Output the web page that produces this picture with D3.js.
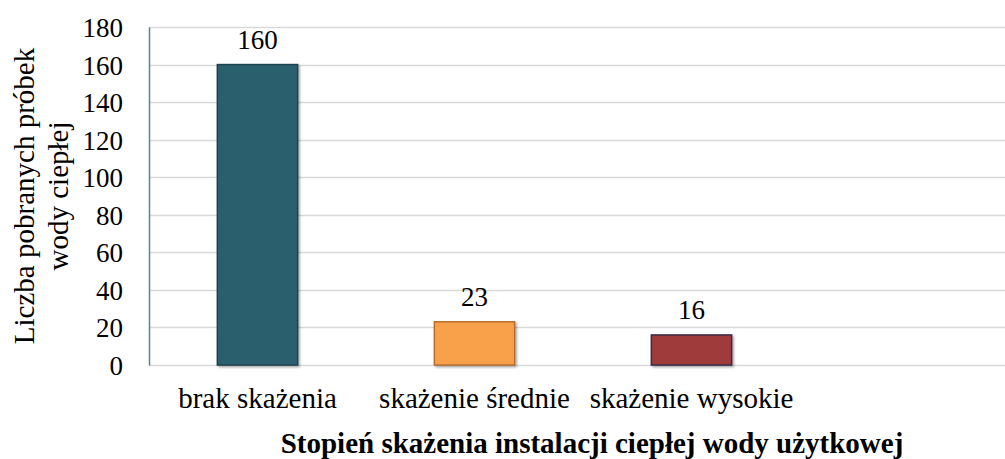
<!DOCTYPE html>
<html>
<head>
<meta charset="utf-8">
<script src="https://cdn.jsdelivr.net/npm/d3@7"></script>
<style>
  body { margin: 0; background: #fff; }
  svg, svg text { font-family: "Liberation Serif", "Times New Roman", Times, "DejaVu Serif", serif !important; }
</style>
</head>
<body>
<div id="chart"></div>
<script>
// categories (the last one is empty, as in the source sheet)
var categories = ["brak skażenia", "skażenie średnie", "skażenie wysokie", ""];
var values = [160, 23, 16, null];
var barColors = ["#2b5f6d", "#f9a04b", "#a03b3b", "#fff"];
var barStrokes = ["#1d424d", "#b86e2a", "#3a2a48", "#fff"];
var yTicks = [0, 20, 40, 60, 80, 100, 120, 140, 160, 180];
var yTitle = ["Liczba pobranych próbek", "wody ciepłej"];
var xTitle = "Stopień skażenia instalacji ciepłej wody użytkowej";

var width = 1005, height = 459;
var svg = d3.select("#chart").append("svg")
    .attr("width", width)
    .attr("height", height);

var x0 = 149, x1 = 1017, yTop = 27, yBot = 365;

var x = d3.scaleBand()
    .domain(categories)
    .range([x0, x1])
    .paddingInner(0.63)
    .paddingOuter(0.315);

var y = d3.scaleLinear()
    .domain([0, 180])
    .range([yBot, yTop]);

// gridlines
svg.append("g").selectAll("line")
    .data(yTicks)
    .enter().append("line")
    .attr("x1", x0)
    .attr("x2", width)
    .attr("y1", d => Math.round(y(d)) + 0.5)
    .attr("y2", d => Math.round(y(d)) + 0.5)
    .attr("stroke", "#d9d9d9")
    .attr("stroke-width", 1.5);

// y axis
var yAxis = d3.axisLeft(y).tickValues(yTicks).tickSize(0).tickPadding(26);
var gy = svg.append("g")
    .attr("transform", "translate(" + x0 + ",0)")
    .call(yAxis);
gy.attr("font-family", null);
gy.select(".domain").attr("stroke", "#5a8494").attr("stroke-width", 1.5);
gy.selectAll("text")
    .attr("font-size", 27)
    .attr("fill", "#000")
    .attr("dy", "0.35em");

// bars
var defs = svg.append("defs");
var f = defs.append("filter").attr("id", "sh").attr("x", "-10%").attr("y", "-10%").attr("width", "130%").attr("height", "130%");
f.append("feDropShadow").attr("dx", 1.5).attr("dy", 1.5).attr("stdDeviation", 1).attr("flood-color", "#000").attr("flood-opacity", 0.35);

var data = categories.map((c, i) => ({ cat: c, val: values[i], i: i })).filter(d => d.val != null);

svg.append("g").selectAll("rect")
    .data(data)
    .enter().append("rect")
    .attr("x", d => x(d.cat))
    .attr("y", d => y(d.val))
    .attr("width", x.bandwidth())
    .attr("height", d => y(0) - y(d.val))
    .attr("fill", d => barColors[d.i])
    .attr("stroke", d => barStrokes[d.i])
    .attr("stroke-width", 1.5)
    .attr("filter", "url(#sh)");

// value labels
svg.append("g").selectAll("text")
    .data(data)
    .enter().append("text")
    .attr("x", d => x(d.cat) + x.bandwidth() / 2)
    .attr("y", d => y(d.val) - 16)
    .attr("text-anchor", "middle")
    .attr("font-size", 27)
    .attr("fill", "#000")
    .text(d => d.val);

// x axis labels
var xAxis = d3.axisBottom(x).tickSize(0).tickPadding(22);
var gx = svg.append("g")
    .attr("transform", "translate(0," + yBot + ")")
    .call(xAxis);
gx.attr("font-family", null);
gx.select(".domain").remove();
gx.selectAll("text")
    .attr("font-size", 29)
    .attr("dy", null)
    .attr("y", 43)
    .attr("fill", "#000");

// axis titles
svg.append("text")
    .attr("x", 592)
    .attr("y", 453)
    .attr("text-anchor", "middle")
    .attr("font-size", 29)
    .attr("font-weight", "bold")
    .attr("fill", "#000")
    .text(xTitle);

var yt = svg.append("text")
    .attr("transform", "translate(34,196) rotate(-90)")
    .attr("text-anchor", "middle")
    .attr("font-size", 29)
    .attr("fill", "#000");
yt.selectAll("tspan")
    .data(yTitle)
    .enter().append("tspan")
    .attr("x", 0)
    .attr("dy", (d, i) => i === 0 ? 0 : 34)
    .text(d => d);
</script>
</body>
</html>
